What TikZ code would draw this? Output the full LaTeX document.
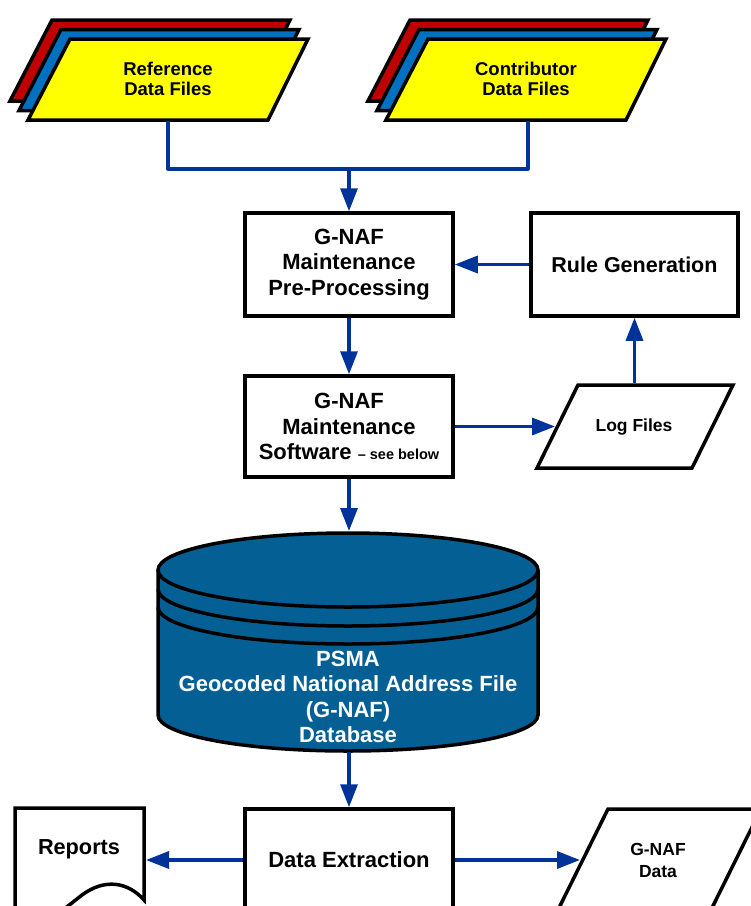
\documentclass[tikz,border=0pt]{standalone}
\usepackage{fontspec}
\setmainfont{Liberation Sans}
\usetikzlibrary{arrows.meta}
\definecolor{connblue}{RGB}{0,51,153}
\definecolor{dbblue}{RGB}{4,96,148}
\definecolor{layred}{RGB}{192,0,0}
\definecolor{layblue}{RGB}{0,112,192}
\definecolor{layyellow}{RGB}{255,255,0}
\begin{document}
\begin{tikzpicture}[x=1pt,y=-1pt,
  outline/.style={draw=black, line width=3.5pt, line join=miter},
  box/.style={outline, fill=white, rectangle, inner sep=0pt, align=center,
    font=\bfseries\fontsize{22}{25.5}\selectfont},
  conn/.style={draw=connblue, line width=3.3pt, -{Triangle[length=23pt,width=17pt]}},
  connline/.style={draw=connblue, line width=3.3pt, line join=round},
  datatxt/.style={align=center, inner sep=0pt, font=\bfseries\fontsize{18.5}{20}\selectfont},
  smalltxt/.style={align=center, inner sep=0pt, font=\bfseries\fontsize{17.5}{22}\selectfont},
  dbtxt/.style={align=center, inner sep=0pt, text=white, font=\bfseries\fontsize{22}{25.5}\selectfont}
]
\useasboundingbox (0,0) rectangle (751,906);
\clip (0,0) rectangle (751,906);

% ---------- stacked data files ----------
\foreach \dx in {0,358}{
  \begin{scope}[shift={(\dx,0)}]
    \draw[outline, fill=layred]    (52,20) -- (290,20) -- (250,101) -- (10,101) -- cycle;
    \draw[outline, fill=layblue]   (61,29.5) -- (299,29.5) -- (259,110.5) -- (19,110.5) -- cycle;
    \draw[outline, fill=layyellow] (70,39) -- (308,39) -- (268,120) -- (28,120) -- cycle;
  \end{scope}
}
\node[datatxt] (ref) at (168,79) {Reference\\Data Files};
\node[datatxt] (con) at (526,79) {Contributor\\Data Files};
\coordinate (refB) at (168,121);
\coordinate (conB) at (528,121);
\coordinate (join) at (349,169);

% ---------- boxes ----------
\node[box, minimum width=208pt, minimum height=103pt] (pre) at (349,264.5)
  {G-NAF\\Maintenance\\Pre-Processing};
\node[box, minimum width=207pt, minimum height=103pt, font=\bfseries\fontsize{21.5}{25}\selectfont] (rule) at (634.5,264.5)
  {Rule Generation};
\node[box, minimum width=208pt, minimum height=101pt] (sw) at (349,426.5)
  {G-NAF\\Maintenance\\Software {\fontsize{14.5}{16}\selectfont– see below}};
\node[box, minimum width=208pt, minimum height=102pt] (ext) at (349,860)
  {Data Extraction};

% ---------- log files ----------
\draw[outline, fill=white] (578,385) -- (733,385) -- (692,468) -- (537,468) -- cycle;
\node[smalltxt] (log) at (634,427) {Log Files};
\coordinate (logL) at (555,426.5);
\coordinate (logT) at (634.5,383);

% ---------- database cylinder ----------
\fill[dbblue] (158,570) -- (158,715)
  arc[start angle=180, end angle=360, x radius=190pt, y radius=36pt]
  -- (538,570)
  arc[start angle=0, end angle=180, x radius=190pt, y radius=37pt] -- cycle;
\draw[outline] (348,570) ellipse [x radius=190pt, y radius=37pt];
\draw[outline] (158,589) arc[start angle=180, end angle=360, x radius=190pt, y radius=37pt];
\draw[outline] (158,607) arc[start angle=180, end angle=360, x radius=190pt, y radius=37pt];
\draw[outline] (158,570) -- (158,715)
  arc[start angle=180, end angle=360, x radius=190pt, y radius=36pt] -- (538,570);
\node[dbtxt] (db) at (348,697) {PSMA\\Geocoded National Address File\\(G-NAF)\\Database};
\coordinate (dbT) at (349,531);
\coordinate (dbB) at (349,752);

% ---------- reports document ----------
\draw[outline, fill=white] (15,925) -- (15,808) -- (144,808) -- (144,900)
  .. controls (128,882) and (105,878) .. (82,895)
  .. controls (60,912) and (35,935) .. (15,925);
\node[font=\bfseries\fontsize{21.7}{24}\selectfont, inner sep=0pt] (rep) at (79,849) {Reports};
\coordinate (repR) at (146,860);

% ---------- G-NAF data ----------
\draw[outline, fill=white] (608,809) -- (761,809) -- (706,920) -- (553,920) -- cycle;
\node[smalltxt] (gd) at (658,860) {G-NAF\\Data};
\coordinate (gdL) at (580,860);

% ---------- connectors ----------
\draw[connline] (refB) |- (join) -| (conB);
\draw[conn] (join) -- (pre.north);
\draw[conn] (rule.west) -- (pre.east);
\draw[conn] (pre.south) -- (sw.north);
\draw[conn] (sw.east) -- (logL);
\draw[conn] (logT) -- (rule.south);
\draw[conn] (sw.south) -- (dbT);
\draw[conn] (dbB) -- (ext.north);
\draw[conn] (ext.west) -- (repR);
\draw[conn] (ext.east) -- (gdL);
\end{tikzpicture}
\end{document}
